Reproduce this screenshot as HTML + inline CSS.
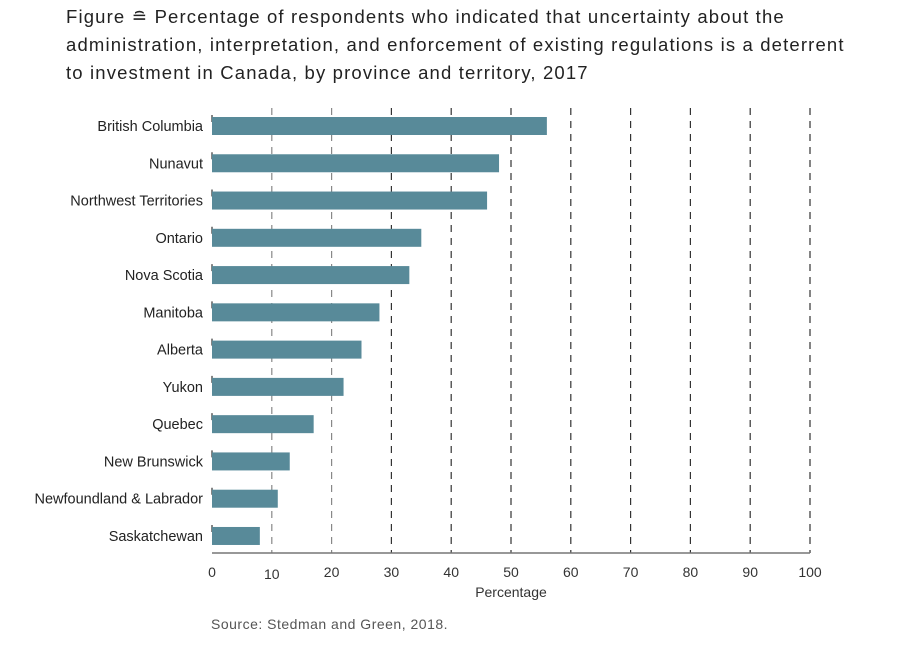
<!DOCTYPE html>
<html><head><meta charset="utf-8"><style>
body{margin:0;background:#fff;width:900px;height:646px;overflow:hidden;font-family:"Liberation Sans",sans-serif}
</style></head><body>
<svg width="900" height="646" font-family="Liberation Sans, sans-serif">
<g font-size="18.5" letter-spacing="1.15" fill="#222">
<text x="66" y="23">Figure ≘ Percentage of respondents who indicated that uncertainty about the</text>
<text x="66" y="51">administration, interpretation, and enforcement of existing regulations is a deterrent</text>
<text x="66" y="79">to investment in Canada, by province and territory, 2017</text>
</g>
<g id="grid"></g>
<g id="bars"></g>
<g id="xaxis"></g>
<text x="511" y="597" text-anchor="middle" font-size="14" fill="#333">Percentage</text>
<text x="211" y="629" font-size="14" letter-spacing="0.5" fill="#555">Source: Stedman and Green, 2018.</text>
</svg>
<script>
const categories=["British Columbia","Nunavut","Northwest Territories","Ontario","Nova Scotia","Manitoba","Alberta","Yukon","Quebec","New Brunswick","Newfoundland & Labrador","Saskatchewan"];
const values=[56,48,46,35,33,28,25,22,17,13,11,8];
const ticks=[0,10,20,30,40,50,60,70,80,90,100];
const NS="http://www.w3.org/2000/svg";
const x=v=>212+v*5.98;
const y=i=>126+i*37.27;
function mk(t,a,p){const e=document.createElementNS(NS,t);for(const k in a)e.setAttribute(k,a[k]);p.appendChild(e);return e;}
const grid=document.getElementById('grid'),bars=document.getElementById('bars'),xa=document.getElementById('xaxis');
ticks.forEach(t=>{
  if(t>0){const l=mk('line',{x1:x(t),x2:x(t),y1:108,y2:553,stroke:(t<=20?'#888':'#333'),'stroke-width':1.2,'stroke-dasharray':'7,6'},grid);
  
  }
  const tx=mk('text',{x:x(t),y:t==10?579:577,'text-anchor':'middle','font-size':14,fill:'#333'},xa);
  tx.textContent=t;
  
  
});
const ax=mk('line',{x1:212,x2:810,y1:553,y2:553,stroke:'#777','stroke-width':1.5},xa);


const y0=mk('line',{x1:212,x2:212,y1:108,y2:553,stroke:'#333','stroke-width':1.2,'stroke-dasharray':'7,30.27','stroke-dashoffset':-7},grid);


categories.forEach((c,i)=>{
  const r=mk('rect',{x:x(0),y:y(i)-9,width:x(values[i])-x(0),height:18,fill:'#588a99'},bars);
  
  
  const t=mk('text',{x:203,y:y(i)+5,'text-anchor':'end','font-size':14.5,fill:'#222'},bars);
  t.textContent=c;
  
  
});
</script>
</body></html>
